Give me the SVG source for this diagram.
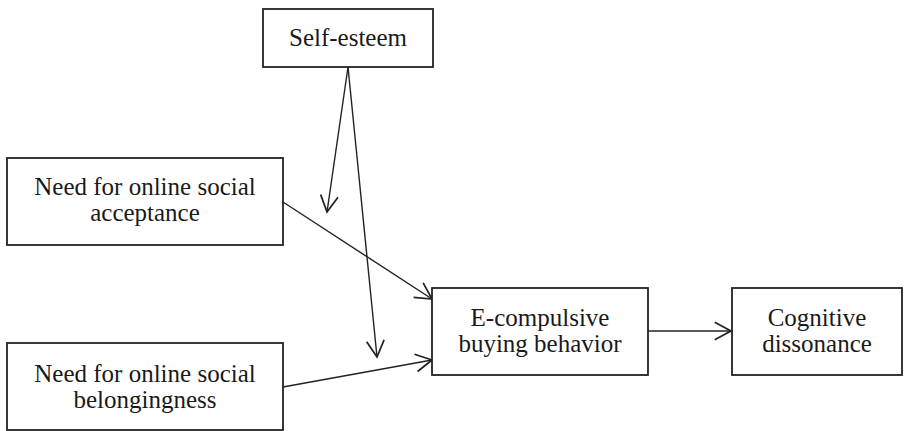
<svg xmlns="http://www.w3.org/2000/svg" width="905" height="431" viewBox="0 0 905 431">
<style>
.box{fill:#fff;stroke:#222;stroke-width:1.8}
.t{font-family:"Liberation Serif","Times New Roman",serif;font-size:25px;fill:#1a1a1a;text-anchor:middle}
.c{fill:none;stroke:#222;stroke-width:1.4}
</style>
<defs>
<marker id="ah" markerUnits="userSpaceOnUse" markerWidth="20" markerHeight="20" viewBox="-14 -8 16 16" refX="0" refY="0" orient="auto">
<path d="M-13,-7 L0,0 L-13,7" fill="none" stroke="#222" stroke-width="1.4"/>
</marker>
</defs>
<rect width="905" height="431" fill="#fff"/>
<g id="connectors">
<line class="c" x1="283" y1="202" x2="432" y2="299" marker-end="url(#ah)"/>
<line class="c" x1="283" y1="387" x2="432" y2="360" marker-end="url(#ah)"/>
<line class="c" x1="348" y1="67" x2="327" y2="212" marker-end="url(#ah)"/>
<line class="c" x1="348" y1="67" x2="377" y2="357" marker-end="url(#ah)"/>
<line class="c" x1="648" y1="331" x2="731" y2="331" marker-end="url(#ah)"/>
</g>
<g id="self-esteem">
<rect class="box" x="263" y="9" width="170" height="58"/>
<text class="t" x="348" y="46">Self-esteem</text>
</g>
<g id="acceptance">
<rect class="box" x="7" y="158" width="276" height="87"/>
<text class="t" x="145" y="195">Need for online social</text>
<text class="t" x="145" y="221">acceptance</text>
</g>
<g id="belongingness">
<rect class="box" x="7" y="343" width="276" height="87"/>
<text class="t" x="145" y="382">Need for online social</text>
<text class="t" x="145" y="408">belongingness</text>
</g>
<g id="ecompulsive">
<rect class="box" x="432" y="288" width="216" height="87"/>
<text class="t" x="540" y="326">E-compulsive</text>
<text class="t" x="540" y="352">buying behavior</text>
</g>
<g id="cognitive">
<rect class="box" x="732" y="288" width="170" height="87"/>
<text class="t" x="817" y="326">Cognitive</text>
<text class="t" x="817" y="352">dissonance</text>
</g>
</svg>
